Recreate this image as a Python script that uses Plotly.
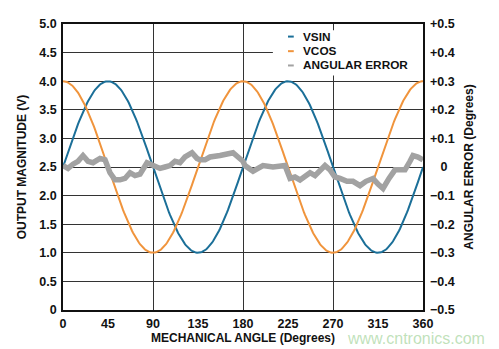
import numpy as np
import plotly.graph_objects as go

# Resolver output over one mechanical revolution (two electrical cycles)
angle_deg = np.arange(0, 361, 1)
offset_v = 2.5
amplitude_v = 1.5
vsin = offset_v + amplitude_v * np.sin(np.radians(2 * angle_deg))
vcos = offset_v + amplitude_v * np.cos(np.radians(2 * angle_deg))

# Measured angular error (degrees) at sampled mechanical angles
err_angle = [0, 5, 10, 15, 20, 25, 30, 37, 42, 47, 52, 57, 62, 67, 72, 77, 84,
             92, 97, 102, 107, 112, 117, 122, 129, 134, 137, 142, 147, 157, 165,
             170, 175, 180, 182, 190, 195, 200, 210, 217, 222, 227, 232, 237,
             242, 247, 252, 257, 262, 267, 272, 277, 284, 290, 297, 303, 310,
             315, 320, 326, 332, 337, 342, 347, 350, 355, 360]
err_value = [0.005, -0.005, 0.01, 0.02, 0.04, 0.02, 0.015, 0.03, 0.025, -0.02,
             -0.045, -0.045, -0.04, -0.02, -0.03, -0.025, 0.015, 0.0, -0.005,
             0.0, 0.005, 0.02, 0.015, 0.035, 0.05, 0.03, 0.025, 0.025, 0.035,
             0.04, 0.045, 0.05, 0.035, 0.02, 0.005, -0.015, -0.005, 0.005, 0.0,
             0.005, 0.005, -0.04, -0.035, -0.045, -0.03, -0.02, -0.03, -0.01,
             0.005, -0.01, -0.035, -0.04, -0.05, -0.05, -0.065, -0.05, -0.04,
             -0.06, -0.075, -0.04, -0.01, -0.01, -0.01, 0.02, 0.04, 0.035, 0.025]

x_ticks = [0, 45, 90, 135, 180, 225, 270, 315, 360]
y_left_ticks = [0, 0.5, 1.0, 1.5, 2.0, 2.5, 3.0, 3.5, 4.0, 4.5, 5.0]
y_left_text = ["0", "0.5", "1.0", "1.5", "2.0", "2.5", "3.0", "3.5", "4.0", "4.5", "5.0"]
y_right_ticks = [-0.5, -0.4, -0.3, -0.2, -0.1, 0, 0.1, 0.2, 0.3, 0.4, 0.5]
y_right_text = ["\u22120.5", "\u22120.4", "\u22120.3", "\u22120.2", "\u22120.1",
                "\u00a0\u00a0\u00a00", "+0.1", "+0.2", "+0.3", "+0.4", "+0.5"]

BLUE = "#1b6f98"
ORANGE = "#f0943c"
GREY = "#a2a2a2"
FONT = "Liberation Sans, Arial, sans-serif"

fig = go.Figure()
fig.add_trace(go.Scatter(x=angle_deg, y=vsin, mode="lines", name="VSIN",
                         line=dict(color=BLUE, width=2), showlegend=False))
fig.add_trace(go.Scatter(x=angle_deg, y=vcos, mode="lines", name="VCOS",
                         line=dict(color=ORANGE, width=2), showlegend=False))
fig.add_trace(go.Scatter(x=err_angle, y=err_value, mode="lines", name="ANGULAR ERROR",
                         line=dict(color=GREY, width=5.5), yaxis="y2", showlegend=False))

# Legend box with short line keys
fig.add_shape(type="rect", xref="paper", yref="paper", x0=0.583, x1=1.0,
              y0=0.82, y1=0.978, fillcolor="white", line=dict(width=0), layer="above")
legend_items = [("VSIN", BLUE), ("VCOS", ORANGE), ("ANGULAR ERROR", GREY)]
legend_y = [0.956, 0.905, 0.855]
for (label, color), ly in zip(legend_items, legend_y):
    fig.add_shape(type="line", xref="paper", yref="paper", x0=0.625, x1=0.641,
                  y0=ly, y1=ly, line=dict(color=color, width=2), layer="above")
    fig.add_annotation(text="<b>%s</b>" % label, xref="paper", yref="paper", x=0.661, y=ly,
                       xanchor="left", yanchor="middle", showarrow=False,
                       font=dict(family=FONT, size=11.8, color="#111111"))

# Site watermark
fig.add_annotation(text="www.cntronics.com", xref="paper", yref="paper",
                   x=1.178, y=-0.1, xanchor="right", yanchor="middle", showarrow=False,
                   font=dict(family=FONT, size=16, color="rgba(150,205,140,0.6)"))

axis_font = dict(family=FONT, size=12.5, color="#111111")
title_font = dict(family=FONT, size=12, color="#111111")

fig.update_layout(
    width=499, height=349,
    margin=dict(l=63, r=76, t=24, b=39),
    paper_bgcolor="white", plot_bgcolor="white",
    font=dict(family=FONT),
    xaxis=dict(range=[0, 360], tickvals=x_ticks, ticktext=["<b>%d</b>" % v for v in x_ticks],
               showgrid=False, zeroline=False, automargin=False,
               showline=True, linecolor="#111111", linewidth=1.5, mirror=True,
               ticks="", tickfont=axis_font, ticklabelstandoff=1,
               title=dict(text="<b>MECHANICAL ANGLE (Degrees)</b>", font=title_font, standoff=1),
               minor=dict(tickvals=[90, 180, 270], showgrid=True,
                          gridcolor="#333333", gridwidth=1)),
    yaxis=dict(range=[0, 5], tickvals=y_left_ticks, ticktext=["<b>%s</b>" % t for t in y_left_text],
               showgrid=True, gridcolor="#333333", gridwidth=1, zeroline=False, automargin=False,
               showline=True, linecolor="#111111", linewidth=1.5, mirror=True,
               ticks="", tickfont=axis_font, ticklabelstandoff=2,
               title=dict(text="<b>OUTPUT MAGNITUDE (V)</b>", font=title_font, standoff=10)),
    yaxis2=dict(range=[-0.5, 0.5], tickvals=y_right_ticks,
                ticktext=["<b>%s</b>" % t for t in y_right_text],
                overlaying="y", side="right", showgrid=False, zeroline=False, automargin=False,
                showline=False, ticks="", tickfont=axis_font, ticklabelstandoff=6,
                title=dict(text="<b>ANGULAR ERROR (Degrees)</b>", font=title_font, standoff=10)),
)

fig.write_html("out.html")
